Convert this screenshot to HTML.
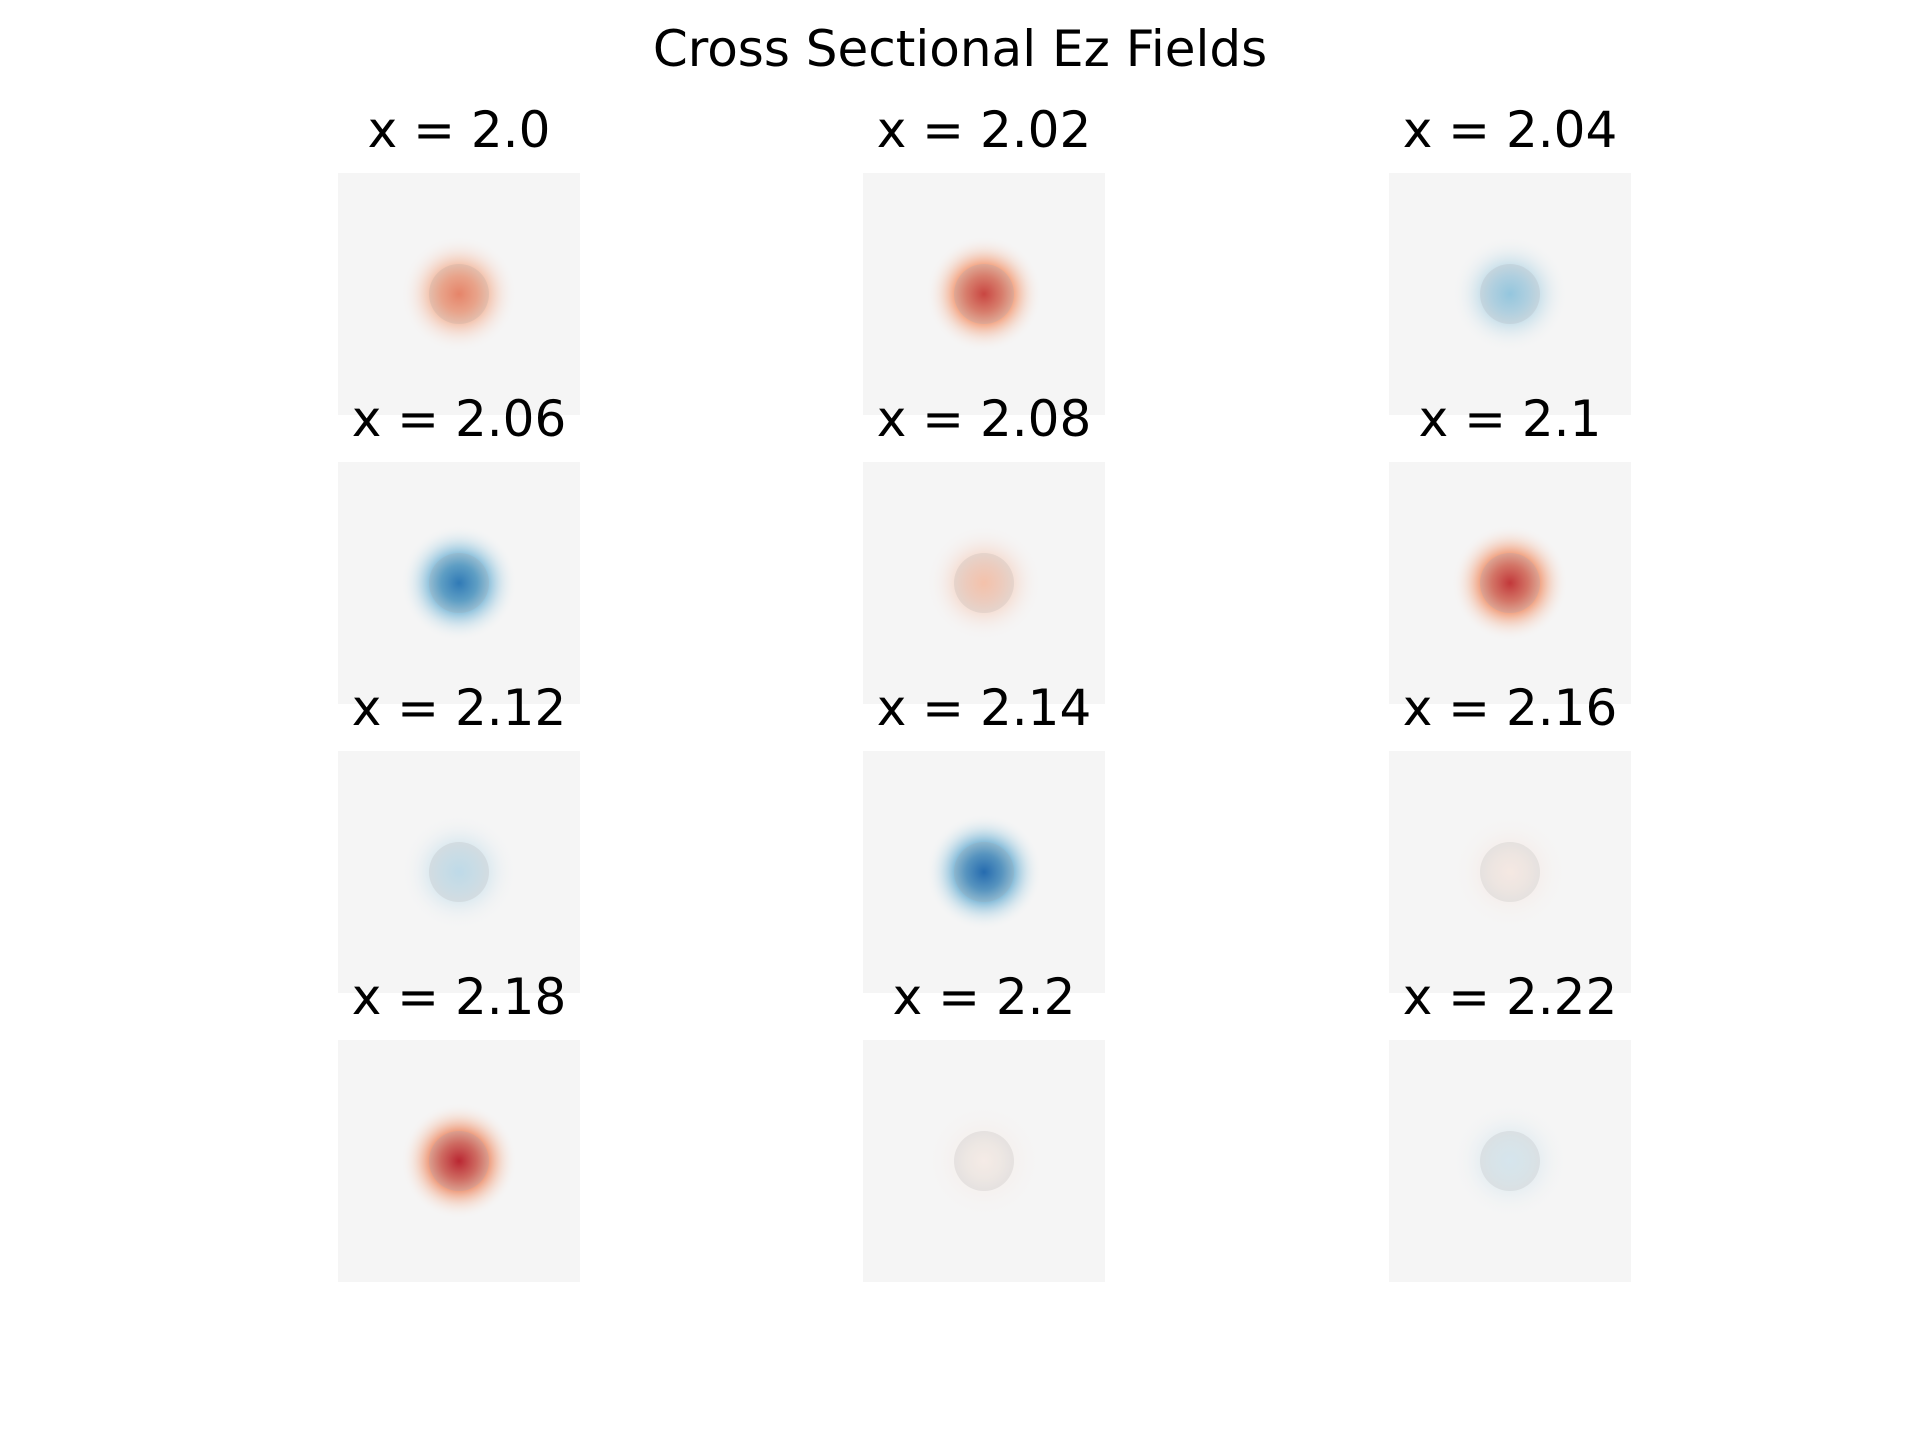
<!DOCTYPE html>
<html><head><meta charset="utf-8"><style>
html,body{margin:0;padding:0;background:#fff;}
svg{display:block;font-family:"DejaVu Sans","Liberation Sans",sans-serif;}
</style></head><body>
<svg id="fig" width="1920" height="1440" viewBox="0 0 1920 1440" xmlns="http://www.w3.org/2000/svg">
<rect width="1920" height="1440" fill="#fff"/>
<text x="960" y="66" font-size="50" text-anchor="middle" fill="#000">Cross Sectional Ez Fields</text>
<defs id="defs"></defs>
<g id="panels"></g>
</svg>
<script>
const labels = ["2.0","2.02","2.04","2.06","2.08","2.1","2.12","2.14","2.16","2.18","2.2","2.22"];
const amplitudes = [0.45,0.72,-0.3,-0.78,0.2,0.78,-0.17,-0.88,0.05,0.85,0.04,-0.1];

const colLeft = [338,863,1389], rowTop = [173,462,751,1040], size = 242;
const stops = [[5,48,97],[33,102,172],[67,147,195],[146,197,222],[245,245,245],[244,165,130],[214,96,77],[178,24,43],[103,0,31]];
function cmap(v){
  v=Math.max(-1,Math.min(1,v));
  const t=(v+1)/2*(stops.length-1), i=Math.min(Math.floor(t),stops.length-2), f=t-i;
  const c=stops[i].map((a,k)=>Math.round(a+(stops[i+1][k]-a)*f));
  return 'rgb('+c.join(',')+')';
}
function mixGray(v,g){
  const s=cmap(v).match(/\d+/g).map(Number);
  const gr=[205,205,205];
  return 'rgb('+s.map((a,k)=>Math.round(a*(1-g)+gr[k]*g)).join(',')+')';
}
const NS='http://www.w3.org/2000/svg';
const defs=document.getElementById('defs'), g=document.getElementById('panels');
function mk(tag,attrs,parent){const e=document.createElementNS(NS,tag);for(const k in attrs)e.setAttribute(k,attrs[k]);parent.appendChild(e);return e;}
labels.forEach((lab,i)=>{
  const v=amplitudes[i], x=colLeft[i%3], y=rowTop[Math.floor(i/3)], cx=x+size/2, cy=y+size/2;
  const halo=mk('radialGradient',{id:'h'+i},defs);
  mk('stop',{offset:'0.5','stop-color':cmap(v*0.35),'stop-opacity':'1'},halo);
  mk('stop',{offset:'0.75','stop-color':cmap(v*0.2),'stop-opacity':'0.4'},halo);
  mk('stop',{offset:'1','stop-color':'#f5f5f5','stop-opacity':'0'},halo);
  const core=mk('radialGradient',{id:'c'+i},defs);
  mk('stop',{offset:'0','stop-color':cmap(v*0.82)},core);
  mk('stop',{offset:'0.6','stop-color':mixGray(v*0.65,0.2)},core);
  mk('stop',{offset:'1','stop-color':mixGray(v*0.45,0.4)},core);
  const p=mk('g',{},g);
  
  
  const bg=mk('rect',{x:x,y:y,width:size,height:size,fill:'#f5f5f5'},p);
  
  
  const h=mk('circle',{cx:cx,cy:cy,r:58,fill:'url(#h'+i+')'},p);
  
  
  const c=mk('circle',{cx:cx,cy:cy,r:30,fill:'url(#c'+i+')'},p);
  
  
  const t=mk('text',{x:cx,y:y-26,'font-size':50,'text-anchor':'middle',fill:'#000'},p);
  t.textContent='x = '+lab;
  
  
});
</script>
</body></html>
